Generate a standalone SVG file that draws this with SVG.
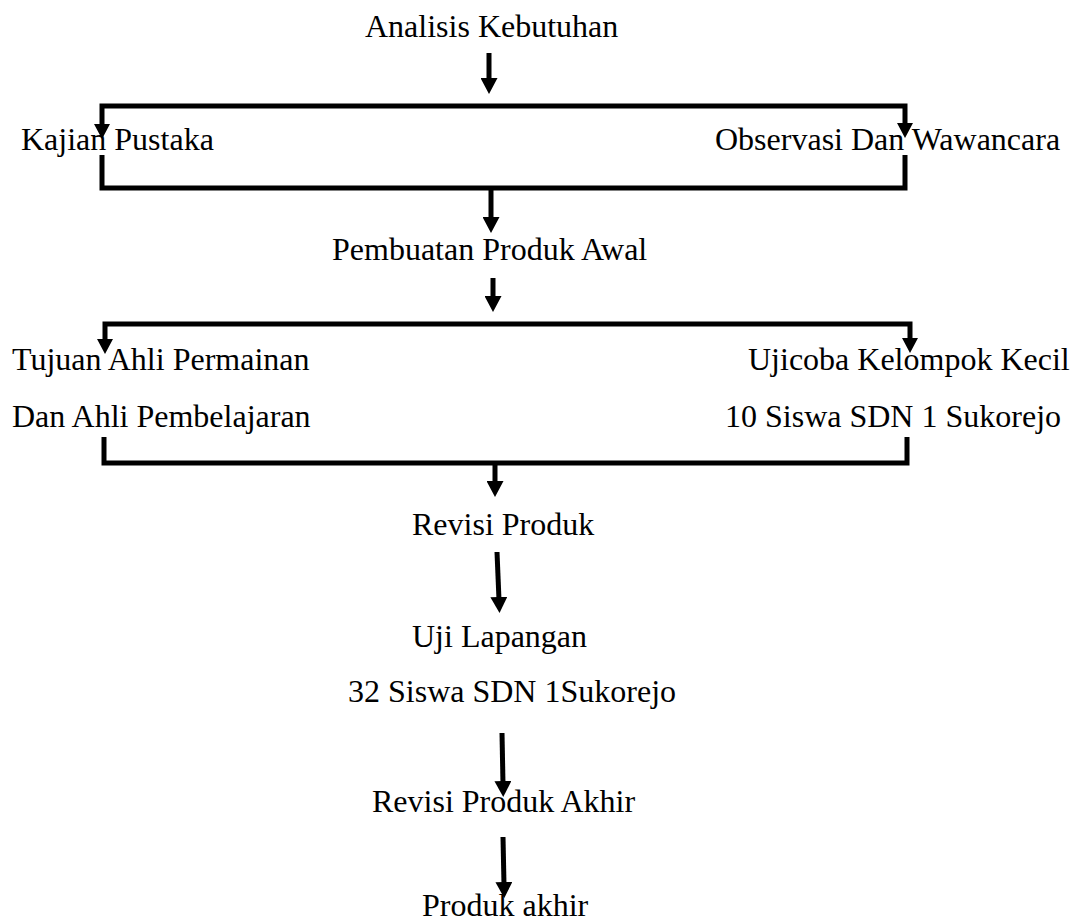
<svg xmlns="http://www.w3.org/2000/svg" width="1072" height="924" viewBox="0 0 1072 924">
<style>
text{font-family:"Liberation Serif","Times New Roman",serif;font-size:32px;fill:#000}
.ln{fill:none;stroke:#000;stroke-width:5;stroke-linejoin:miter;stroke-linecap:butt}
.hd{fill:#000;stroke:none}
</style>
<defs>
<marker id="ah" markerUnits="userSpaceOnUse" markerWidth="16" markerHeight="17" viewBox="0 0 16 17" refX="3" refY="8.5" orient="auto">
<path d="M0,0 L16,8.5 L0,17 Z" fill="#000"/>
</marker>
</defs>
<rect width="1072" height="924" fill="#fff"/>
<g id="connectors">
<line class="ln" x1="489" y1="53" x2="489" y2="81" marker-end="url(#ah)"/>
<path class="ln" d="M102,126 V106 H905 V126"/>
<polygon class="hd" points="94,124 110,124 102,139"/>
<polygon class="hd" points="897,123 913,123 905,138"/>
<path class="ln" d="M102,155 V188 H905 V155"/>
<line class="ln" x1="491" y1="188" x2="491" y2="220" marker-end="url(#ah)"/>
<line class="ln" x1="493" y1="278" x2="493" y2="299" marker-end="url(#ah)"/>
<path class="ln" d="M105,342 V324 H910 V342"/>
<polygon class="hd" points="97,339 113,339 105,354"/>
<polygon class="hd" points="902,338 918,338 910,353"/>
<path class="ln" d="M104,437 V463 H907 V437"/>
<line class="ln" x1="495" y1="463" x2="495" y2="484" marker-end="url(#ah)"/>
<line class="ln" x1="497" y1="552" x2="499" y2="600" marker-end="url(#ah)"/>
<line class="ln" x1="502" y1="733" x2="503" y2="784" marker-end="url(#ah)"/>
<line class="ln" x1="503" y1="837" x2="504" y2="885" marker-end="url(#ah)"/>
</g>
<g id="n-analisis"><text x="365" y="37">Analisis Kebutuhan</text></g>
<g id="n-kajian"><text x="21" y="150">Kajian Pustaka</text></g>
<g id="n-observasi"><text x="715" y="150">Observasi Dan Wawancara</text></g>
<g id="n-pembuatan"><text x="332" y="260">Pembuatan Produk Awal</text></g>
<g id="n-tujuan"><text x="12" y="370">Tujuan Ahli Permainan</text><text x="12" y="427">Dan Ahli Pembelajaran</text></g>
<g id="n-ujicoba"><text x="748" y="370">Ujicoba Kelompok Kecil</text><text x="725" y="427">10 Siswa SDN 1 Sukorejo</text></g>
<g id="n-revisi"><text x="412" y="535">Revisi Produk</text></g>
<g id="n-uji"><text x="412" y="647">Uji Lapangan</text><text x="348" y="702">32 Siswa SDN 1Sukorejo</text></g>
<g id="n-revisi-akhir"><text x="372" y="812">Revisi Produk Akhir</text></g>
<g id="n-produk-akhir"><text x="422" y="916">Produk akhir</text></g>
</svg>
